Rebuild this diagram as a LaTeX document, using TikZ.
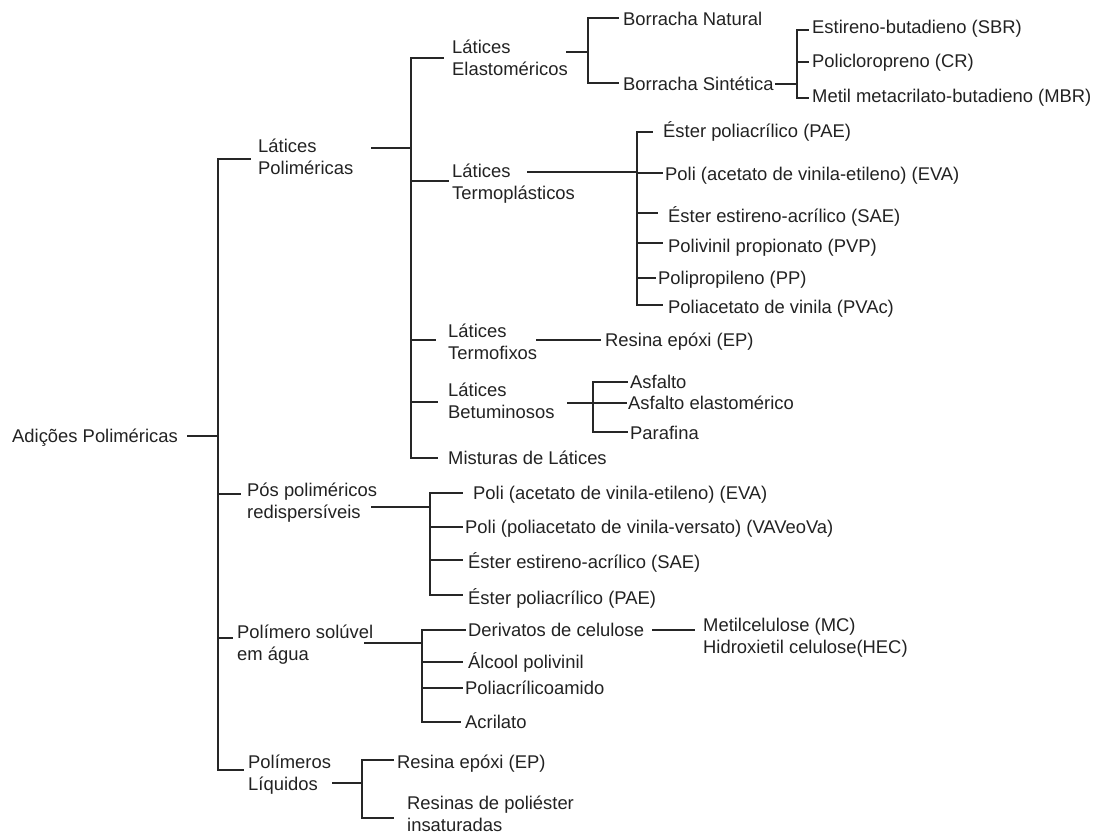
\documentclass[tikz,border=0pt]{standalone}
\usepackage{fontspec}
\setmainfont{Liberation Sans}
\newcommand{\twol}[2]{\begin{tabular}[t]{@{}l@{}}#1\\#2\end{tabular}}
\definecolor{txt}{HTML}{222222}
\definecolor{lc}{HTML}{262626}
\begin{document}
\begin{tikzpicture}[x=1pt,y=-1pt,
  lab/.style 2 args={anchor=west, inner ysep=0pt, inner xsep=#1pt, text depth=20pt, text height=#2pt, font=\fontsize{18.4}{22}\selectfont, text=txt},
  ln/.style={draw=lc, line width=1.3pt, line cap=rect}]
\fill[white] (0,0) rectangle (1094,834);
\useasboundingbox (0,0) rectangle (1094,834);

% root
\node[anchor=base west, inner sep=0pt, font=\fontsize{18.4}{22}\selectfont, text=txt] (root) at (12,442) {Adições Poliméricas};
\coordinate (rootout) at (188,436);
\coordinate (j0) at (218,0);

% level 1
\node[lab={8}{8}] (nA) at (250,159) {\twol{Látices}{Poliméricas}};
\node[lab={7}{24}] (nB) at (240,494) {\twol{Pós poliméricos}{redispersíveis}};
\node[lab={5}{20}] (nC) at (232,638) {\twol{Polímero solúvel}{em água}};
\node[lab={5}{16}] (nD) at (243,770) {\twol{Polímeros}{Líquidos}};

\draw[ln] (rootout) -- (j0 |- rootout);
\draw[ln] (j0 |- nA.west) -- (j0 |- nD.west);
\foreach \n in {nA,nB,nC,nD} \draw[ln] (j0 |- \n.west) -- (\n.west);

% Látices Poliméricas
\coordinate (Aout) at (372,148);
\coordinate (j1) at (411,0);
\node[lab={9}{12}] (nA1) at (443,58) {\twol{Látices}{Elastoméricos}};
\node[lab={4}{14}] (nA2) at (448,181) {\twol{Látices}{Termoplásticos}};
\node[lab={13}{14}] (nA3) at (435,340) {\twol{Látices}{Termofixos}};
\node[lab={11}{8}] (nA4) at (437,402) {\twol{Látices}{Betuminosos}};
\node[lab={11}{32}] (nA5) at (437,458) {Misturas de Látices};
\draw[ln] (Aout) -- (j1 |- Aout);
\draw[ln] (j1 |- nA1.west) -- (j1 |- nA5.west);
\foreach \n in {nA1,nA2,nA3,nA4,nA5} \draw[ln] (j1 |- \n.west) -- (\n.west);

% Elastoméricos
\coordinate (A1out) at (567,52);
\coordinate (j2) at (588,0);
\node[lab={5}{36}] (nBN) at (618,18) {Borracha Natural};
\node[lab={5}{36}] (nBS) at (618,83) {Borracha Sintética};
\draw[ln] (A1out) -- (j2 |- A1out);
\draw[ln] (j2 |- nBN.west) -- (j2 |- nBS.west);
\foreach \n in {nBN,nBS} \draw[ln] (j2 |- \n.west) -- (\n.west);

% Borracha Sintética
\coordinate (BSout) at (776,84);
\coordinate (j3) at (797,0);
\node[lab={4}{28}] (nSBR) at (808,30) {Estireno-butadieno (SBR)};
\node[lab={4}{32}] (nCR) at (808,62) {Policloropreno (CR)};
\node[lab={4}{30}] (nMBR) at (808,98) {Metil metacrilato-butadieno (MBR)};
\draw[ln] (BSout) -- (j3 |- BSout);
\draw[ln] (j3 |- nSBR.west) -- (j3 |- nMBR.west);
\foreach \n in {nSBR,nCR,nMBR} \draw[ln] (j3 |- \n.west) -- (\n.west);

% Termoplásticos
\coordinate (A2out) at (528,172);
\coordinate (j4) at (637,0);
\node[lab={11}{32}] (nT1) at (652,132) {Éster poliacrílico (PAE)};
\node[lab={3}{36}] (nT2) at (662,173) {Poli (acetato de vinila-etileno) (EVA)};
\node[lab={11}{40}] (nT3) at (657,213) {Éster estireno-acrílico (SAE)};
\node[lab={6}{40}] (nT4) at (662,243) {Polivinil propionato (PVP)};
\node[lab={3}{32}] (nT5) at (655,278) {Polipropileno (PP)};
\node[lab={6}{36}] (nT6) at (662,305) {Poliacetato de vinila (PVAc)};
\draw[ln] (A2out) -- (j4 |- A2out);
\draw[ln] (j4 |- nT1.west) -- (j4 |- nT6.west);
\foreach \n in {nT1,nT2,nT3,nT4,nT5,nT6} \draw[ln] (j4 |- \n.west) -- (\n.west);

% Termofixos
\coordinate (A3out) at (537,340);
\node[lab={5}{32}] (nRE1) at (600,340) {Resina epóxi (EP)};
\draw[ln] (A3out) -- (nRE1.west);

% Betuminosos
\coordinate (A4out) at (568,403);
\coordinate (j5) at (593,0);
\node[lab={3}{32}] (nAs) at (627,382) {Asfalto};
\node[lab={2}{32}] (nAe) at (626,403) {Asfalto elastomérico};
\node[lab={3}{34}] (nPa) at (627,432) {Parafina};
\draw[ln] (A4out) -- (j5 |- A4out);
\draw[ln] (j5 |- nAs.west) -- (j5 |- nPa.west);
\foreach \n in {nAs,nAe,nPa} \draw[ln] (j5 |- \n.west) -- (\n.west);

% Pós poliméricos
\coordinate (Bout) at (372,507);
\coordinate (jB) at (430,0);
\node[lab={11}{32}] (nB1) at (462,493) {Poli (acetato de vinila-etileno) (EVA)};
\node[lab={3}{32}] (nB2) at (462,527) {Poli (poliacetato de vinila-versato) (VAVeoVa)};
\node[lab={6}{36}] (nB3) at (462,560) {Éster estireno-acrílico (SAE)};
\node[lab={6}{38}] (nB4) at (462,595) {Éster poliacrílico (PAE)};
\draw[ln] (Bout) -- (jB |- Bout);
\draw[ln] (jB |- nB1.west) -- (jB |- nB4.west);
\foreach \n in {nB1,nB2,nB3,nB4} \draw[ln] (jB |- \n.west) -- (\n.west);

% Polímero solúvel
\coordinate (Cout) at (365,643);
\coordinate (jC) at (422,0);
\node[lab={3}{32}] (nC1) at (465,630) {Derivatos de celulose};
\node[lab={6}{32}] (nC2) at (462,662) {Álcool polivinil};
\node[lab={3}{32}] (nC3) at (462,688) {Poliacrílicoamido};
\node[lab={5}{32}] (nC4) at (460,722) {Acrilato};
\draw[ln] (Cout) -- (jC |- Cout);
\draw[ln] (jC |- nC1.west) -- (jC |- nC4.west);
\foreach \n in {nC1,nC2,nC3,nC4} \draw[ln] (jC |- \n.west) -- (\n.west);

\coordinate (C1out) at (653,630);
\node[lab={9}{22}] (nMC) at (694,630) {\twol{Metilcelulose (MC)}{Hidroxietil celulose(HEC)}};
\draw[ln] (C1out) -- (nMC.west);

% Polímeros Líquidos
\coordinate (Dout) at (333,783);
\coordinate (jD) at (362,0);
\node[lab={4}{36}] (nD1) at (393,760) {Resina epóxi (EP)};
\node[lab={14}{2}] (nD2) at (393,818) {\twol{Resinas de poliéster}{insaturadas}};
\draw[ln] (Dout) -- (jD |- Dout);
\draw[ln] (jD |- nD1.west) -- (jD |- nD2.west);
\foreach \n in {nD1,nD2} \draw[ln] (jD |- \n.west) -- (\n.west);
\end{tikzpicture}
\end{document}
